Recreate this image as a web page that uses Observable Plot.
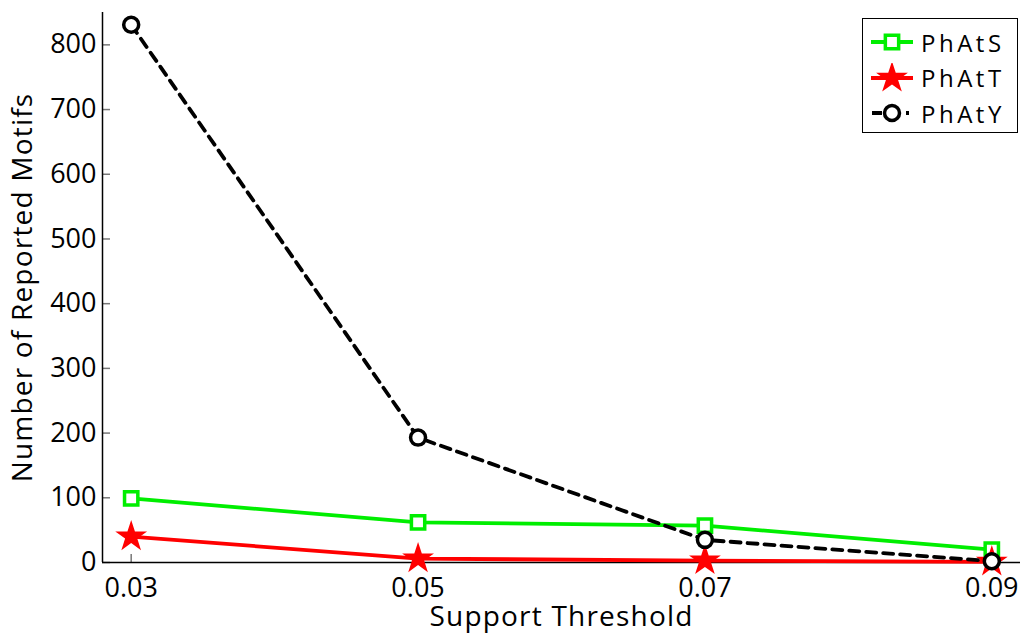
<!DOCTYPE html>
<html><head><meta charset="utf-8">
<script src="https://cdn.jsdelivr.net/npm/d3@7"></script>
<script src="https://cdn.jsdelivr.net/npm/@observablehq/plot@0.6"></script>
<style>
body{margin:0;background:#fff;font-family:"Open Sans",sans-serif;}
#wrap{position:relative;width:1025px;height:637px;}
#legend{position:absolute;left:862px;top:18px;width:156px;height:115px;border:1.5px solid #000;background:#fff;box-sizing:border-box;}
.row{position:absolute;left:6px;height:30px;display:flex;align-items:center;}
.row span{font-size:24px;letter-spacing:3.5px;margin-left:6px;color:#000;}
</style></head>
<body><div id="wrap"><div id="chart"></div><div id="legend"></div></div>
<script>
const thresholds = [0.03, 0.05, 0.07, 0.09];
const phatS = [99, 62, 57, 20];
const phatT = [40, 6, 3, 1];
const phatY = [831, 193, 35, 2];
const yTicks = [0, 100, 200, 300, 400, 500, 600, 700, 800];
const xTicks = [0.03, 0.05, 0.07, 0.09];
const xDomain = [0.028, 0.092];
const yDomain = [0, 850];

const rows = (vals) => thresholds.map((t, i) => ({x: t, y: vals[i]}));
const S = rows(phatS), T = rows(phatT), Y = rows(phatY);

const font = "Open Sans, sans-serif";
const chart = Plot.plot({
  width: 1025, height: 637,
  marginLeft: 102, marginRight: 5, marginTop: 12, marginBottom: 75,
  style: {fontFamily: font, fontSize: "27px", background: "white"},
  x: {domain: xDomain},
  y: {domain: yDomain},
  marks: [
    Plot.axisY({ticks: yTicks, tickSize: -8, stroke: "#777", strokeWidth: 1.5, text: null, label: null}),
    Plot.axisY({ticks: yTicks, tickSize: 0, tickPadding: 6, fontSize: 27, fill: "#000", label: null}),
    Plot.axisX({ticks: xTicks, tickSize: -8, stroke: "#777", strokeWidth: 1.5, text: null, label: null}),
    Plot.axisX({ticks: xTicks, tickSize: 0, tickPadding: 15, fontSize: 27, fill: "#000", tickFormat: d3.format(".2f"), label: null}),
    Plot.ruleX([xDomain[0]], {stroke: "#000", strokeWidth: 1.5}),
    Plot.ruleY([yDomain[0]], {stroke: "#000", strokeWidth: 1.5}),
    Plot.line(S, {x: "x", y: "y", stroke: "#00ee00", strokeWidth: 3.8}),
    Plot.dot(S, {x: "x", y: "y", symbol: "square", r: 7.5, stroke: "#00ee00", strokeWidth: 3.5, fill: "white"}),
    Plot.line(T, {x: "x", y: "y", stroke: "#ff0000", strokeWidth: 3.8}),
    Plot.dot(T, {x: "x", y: "y", symbol: "star", r: 10, fill: "#ff0000", stroke: "none"}),
    Plot.line(Y, {x: "x", y: "y", stroke: "#000", strokeWidth: 3.8, strokeDasharray: "10,7"}),
    Plot.dot(Y, {x: "x", y: "y", symbol: "circle", r: 7.5, stroke: "#000", strokeWidth: 3.5, fill: "white"}),
    Plot.text(["Support Threshold"], {frameAnchor: "bottom", dy: 63, fontSize: 28, fill: "#000", textAnchor: "middle"}),
    Plot.text(["Number of Reported Motifs"], {frameAnchor: "left", dx: -79, rotate: -90, fontSize: 28, fill: "#000", textAnchor: "middle", lineAnchor: "middle"})
  ]
});
document.getElementById("chart").appendChild(chart);
// letter spacing for axis titles
chart.querySelectorAll("text").forEach(t => {
  if (t.textContent === "Support Threshold" || t.textContent === "Number of Reported Motifs") t.style.letterSpacing = "1.2px";
});

// legend
const legendItems = [
  {name: "PhAtS", color: "#00ee00", sym: "square", dash: null},
  {name: "PhAtT", color: "#ff0000", sym: "star", dash: null},
  {name: "PhAtY", color: "#000", sym: "circle", dash: "10,7"}
];
const lg = document.getElementById("legend");
legendItems.forEach((it, i) => {
  const row = document.createElement("div");
  row.className = "row";
  row.style.top = (8 + i * 35.5) + "px";
  const ns = "http://www.w3.org/2000/svg";
  const svg = document.createElementNS(ns, "svg");
  svg.setAttribute("width", 46); svg.setAttribute("height", 30);
  const ln = document.createElementNS(ns, "line");
  ln.setAttribute("x1", it.dash ? 3 : 2); ln.setAttribute("x2", it.dash ? 40 : 44);
  ln.setAttribute("y1", 15); ln.setAttribute("y2", 15);
  ln.setAttribute("stroke", it.color); ln.setAttribute("stroke-width", 3.8);
  if (it.dash) ln.setAttribute("stroke-dasharray", it.dash);
  svg.appendChild(ln);
  const p = document.createElementNS(ns, "path");
  const symMap = {square: d3.symbolSquare, star: d3.symbolStar, circle: d3.symbolCircle};
  const size = it.sym === "star" ? Math.PI * 10 * 10 : Math.PI * 7.5 * 7.5;
  p.setAttribute("d", d3.symbol(symMap[it.sym], size)());
  p.setAttribute("transform", "translate(23,15)");
  if (it.sym === "star") { p.setAttribute("fill", it.color); }
  else { p.setAttribute("fill", "white"); p.setAttribute("stroke", it.color); p.setAttribute("stroke-width", 3.5); }
  svg.appendChild(p);
  row.appendChild(svg);
  const sp = document.createElement("span");
  sp.textContent = it.name;
  row.appendChild(sp);
  lg.appendChild(row);
});
</script>
</body></html>
